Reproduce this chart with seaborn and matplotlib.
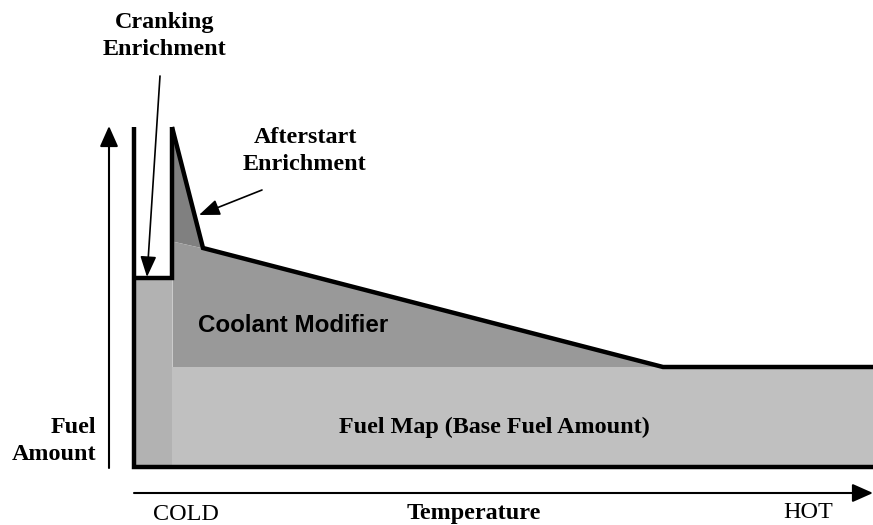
import numpy as np
import pandas as pd
import matplotlib
matplotlib.use("Agg")
import matplotlib.pyplot as plt
import seaborn as sns

# Точки схемы (температура -> количество топлива), в условных единицах
temp_box = [0, 0, 739]
fuel_box = [340, 0, 0]

temp_crank = [0, 38, 38]
fuel_crank = [189, 189, 340]

temp_profile = [38, 69, 529, 739]
fuel_profile = [340, 219, 100, 100]

base_fuel = 100
crank_fuel = 189
coolant_temp = [38, 69, 529]
coolant_top = [226, 219, 100]
after_temp = [38, 69]
after_low = [226, 219]
after_high = [340, 219]

sns.set_theme(style="white")
plt.rcParams['font.family'] = ['Liberation Serif', 'DejaVu Serif']
plt.rcParams['text.color'] = 'black'

fig = plt.figure(figsize=(8.73, 5.25), dpi=100)
ax = fig.add_axes([0, 0, 1, 1])
ax.set_xlim(-134, 739)
ax.set_ylim(-58, 467)
ax.axis("off")

# заливки (модификатор рисуется до карты, чтобы не было шва)
ax.fill_between(after_temp, after_low, after_high, color="#808080", lw=0)
ax.fill_between(coolant_temp, 0, coolant_top, color="#999999", lw=0)
ax.fill_between([38, 739], 0, base_fuel, color="#c0c0c0", lw=0)
ax.fill_between([0, 38], 0, crank_fuel, color="#b2b2b2", lw=0)

# контуры
lw = 3.2
for xs, ys in [(temp_box, fuel_box), (temp_crank, fuel_crank), (temp_profile, fuel_profile)]:
    df = pd.DataFrame({"t": xs, "f": ys})
    sns.lineplot(data=df, x="t", y="f", sort=False, estimator=None, color="black",
                 lw=lw, ax=ax, solid_joinstyle="miter", solid_capstyle="butt")

# оси-стрелки
arrow_axis = dict(arrowstyle="-|>,head_length=0.9,head_width=0.4", color="black",
                  lw=1.5, mutation_scale=14, shrinkA=0, shrinkB=0)
ax.annotate("", xy=(-25, 341), xytext=(-25, -1), arrowprops=arrow_axis)
ax.annotate("", xy=(739, -26), xytext=(0, -26), arrowprops=arrow_axis)

# стрелки-выноски
arrow_note = dict(arrowstyle="-|>,head_length=0.9,head_width=0.35", color="black",
                  lw=1.2, mutation_scale=14, shrinkA=0, shrinkB=0)
ax.annotate("", xy=(13, 190), xytext=(26, 391), arrowprops=arrow_note)
ax.annotate("", xy=(65, 252), xytext=(128, 277), arrowprops=arrow_note)

fs = 17.4
ax.text(31, 431, "Cranking\nEnrichment", ha="center", va="center", fontsize=fs,
        fontweight="bold", linespacing=1.4)
ax.text(171, 316, "Afterstart\nEnrichment", ha="center", va="center", fontsize=fs,
        fontweight="bold", linespacing=1.4)
ax.text(159.5, 142, "Coolant Modifier", ha="center", va="center", fontsize=fs,
        fontweight="bold", family=["Liberation Sans", "DejaVu Sans"])
ax.text(360, 40, "Fuel Map (Base Fuel Amount)", ha="center", va="center", fontsize=fs,
        fontweight="bold")
ax.text(-38, 26, "Fuel\nAmount", ha="right", va="center", fontsize=fs,
        fontweight="bold", linespacing=1.4, multialignment="right")
ax.text(52, -48, "COLD", ha="center", va="center", fontsize=fs)
ax.text(340, -46, "Temperature", ha="center", va="center", fontsize=fs, fontweight="bold")
ax.text(674, -46, "HOT", ha="center", va="center", fontsize=fs)

fig.savefig("out.png", dpi=100)
